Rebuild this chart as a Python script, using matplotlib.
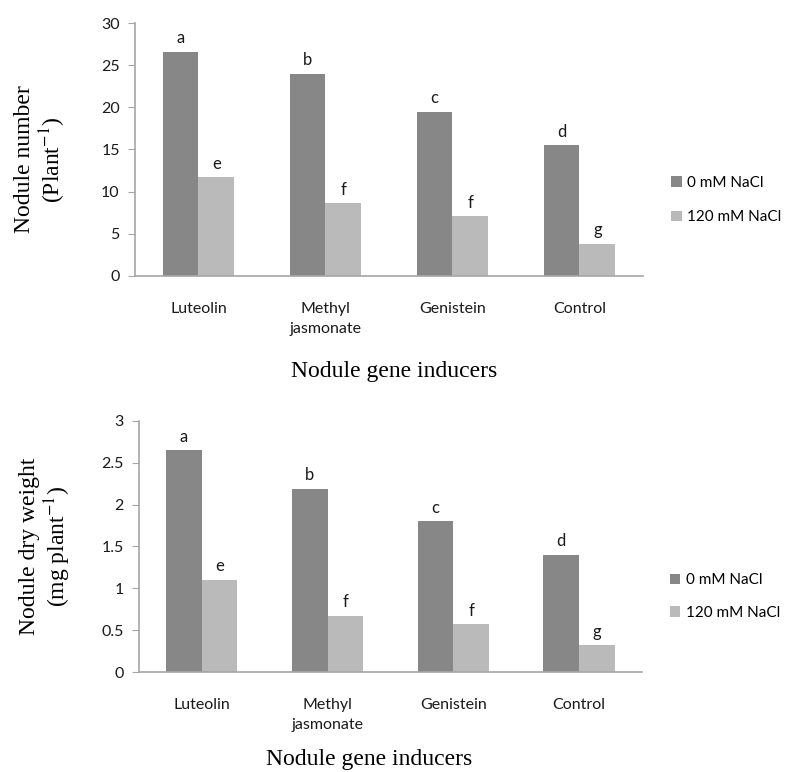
import matplotlib
matplotlib.use("Agg")
import matplotlib.pyplot as plt
import numpy as np

plt.rcParams["mathtext.fontset"] = "stix"

categories = ["Luteolin", "Methyl\njasmonate", "Genistein", "Control"]
series_names = ["0 mM NaCl", "120 mM NaCl"]

nodule_number_0 = [26.6, 24.0, 19.5, 15.5]
nodule_number_120 = [11.7, 8.6, 7.1, 3.8]
number_letters_0 = ["a", "b", "c", "d"]
number_letters_120 = ["e", "f", "f", "g"]

dry_weight_0 = [2.65, 2.19, 1.80, 1.40]
dry_weight_120 = [1.10, 0.67, 0.57, 0.32]
weight_letters_0 = ["a", "b", "c", "d"]
weight_letters_120 = ["e", "f", "f", "g"]

number_ticks = [0, 5, 10, 15, 20, 25, 30]
weight_ticks = [0, 0.5, 1, 1.5, 2, 2.5, 3]
weight_ticklabels = ["0", "0.5", "1", "1.5", "2", "2.5", "3"]

DARK = "#878787"
LIGHT = "#bababa"
AXIS = "#a6a6a6"
TEXT = "#1a1a1a"
SANS = "Lato"
SERIF = "Liberation Serif"


def draw_panel(ax, vals0, vals120, letters0, letters120, ticks, ticklabels, ylabel,
               label_y, legend_gap):
    x = np.arange(len(categories))
    w = 0.283
    b0 = ax.bar(x - w / 2, vals0, w, color=DARK, label=series_names[0])
    b1 = ax.bar(x + w / 2, vals120, w, color=LIGHT, label=series_names[1])
    for bars, letters in ((b0, letters0), (b1, letters120)):
        for rect, lab in zip(bars, letters):
            ax.annotate(lab, (rect.get_x() + rect.get_width() / 2, rect.get_height()),
                        xytext=(0, 4), textcoords="offset points", ha="center", va="bottom",
                        fontsize=12, family=SANS, color=TEXT)
    ax.set_xlim(-0.5, len(categories) - 0.5)
    ax.set_ylim(ticks[0], ticks[-1])
    ax.set_yticks(ticks)
    ax.set_yticklabels(ticklabels, family=SANS, fontsize=11.5, color=TEXT)
    ax.set_xticks(x)
    ax.set_xticklabels(categories, family=SANS, fontsize=11.5, color=TEXT, linespacing=1.55)
    ax.tick_params(axis="x", length=0, pad=19)
    ax.tick_params(axis="y", length=5, color=AXIS, pad=6)
    for s in ("top", "right"):
        ax.spines[s].set_visible(False)
    for s in ("left", "bottom"):
        ax.spines[s].set_color(AXIS)
        ax.spines[s].set_linewidth(1.2)
    ax.set_ylabel(ylabel, family=SERIF, fontsize=17, linespacing=1.1)
    ax.yaxis.set_label_coords(-0.132, label_y)
    ax.legend(loc="center left", bbox_to_anchor=(1.055, 0.30), frameon=False,
              prop={"family": SANS, "size": 11}, handlelength=0.7, handleheight=0.7,
              handletextpad=0.35, labelspacing=legend_gap, borderaxespad=0, borderpad=0)


fig = plt.figure(figsize=(7.87, 7.72), dpi=100)
ax1 = fig.add_axes([0.1715, 0.6425, 0.6455, 0.3277])
ax2 = fig.add_axes([0.1766, 0.1295, 0.639, 0.3255])

draw_panel(ax1, nodule_number_0, nodule_number_120, number_letters_0, number_letters_120,
           number_ticks, [str(t) for t in number_ticks], "Nodule number\n(Plant$^{-1}$)",
           0.46, 1.35)
draw_panel(ax2, dry_weight_0, dry_weight_120, weight_letters_0, weight_letters_120,
           weight_ticks, weight_ticklabels, "Nodule dry weight\n(mg plant$^{-1}$)",
           0.50, 1.2)

fig.text(394 / 787, 1 - 372 / 772, "Nodule gene inducers", family=SERIF, fontsize=17,
         ha="center", va="center")
fig.text(369 / 787, 1 - 760 / 772, "Nodule gene inducers", family=SERIF, fontsize=17,
         ha="center", va="center")

fig.savefig("out.png", dpi=100)
